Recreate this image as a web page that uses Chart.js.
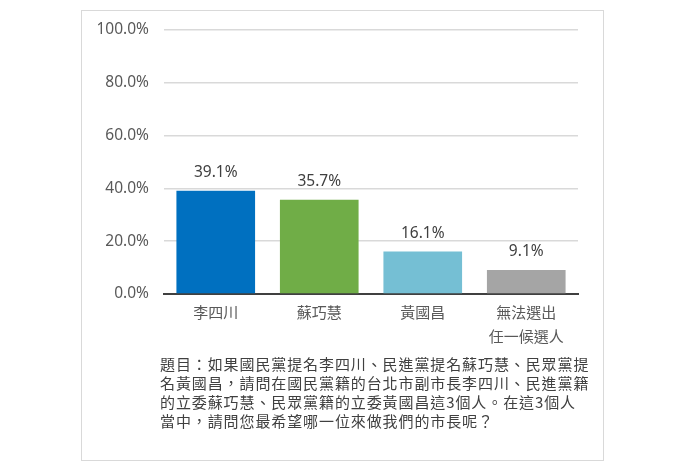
<!DOCTYPE html>
<html lang="zh-TW">
<head>
<meta charset="utf-8">
<script src="https://cdn.jsdelivr.net/npm/chart.js@4"></script>
<style>
  html, body { margin: 0; padding: 0; background: #fff; }
  #wrap { position: relative; width: 699px; height: 468px; }
  #frame { position: absolute; left: 81px; top: 10px; width: 521px; height: 449px; border: 1.5px solid #d9d9d9; }
  #chart { position: absolute; left: 0; top: 0; }
  #question {
    position: absolute; left: 160px; top: 355px; width: 440px;
    font-family: "Noto Sans CJK TC", sans-serif; font-size: 15px; line-height: 18.9px;
    letter-spacing: 0.9px; color: #404040; white-space: nowrap;
  }
</style>
</head>
<body>
<div id="wrap">
  <div id="frame"></div>
  <canvas id="chart" width="699" height="468"></canvas>
  <div id="question" lang="zh-TW">題目：如果國民黨提名李四川、民進黨提名蘇巧慧、民眾黨提<br>名黃國昌，請問在國民黨籍的台北市副市長李四川、民進黨籍<br>的立委蘇巧慧、民眾黨籍的立委黃國昌這3個人。在這3個人<br>當中，請問您最希望哪一位來做我們的市長呢？</div>
</div>
<script>
// 候選人與支持度（%）
const candidates = ['李四川', '蘇巧慧', '黃國昌', ['無法選出', '任一候選人']];
const support = [39.1, 35.7, 16.1, 9.1];
const yTickValues = [0, 20, 40, 60, 80, 100];

const barColors = ['#0070c0', '#70ad47', '#75bfd4', '#a5a5a5'];
const fontFamily = '"Noto Sans", "Noto Sans CJK TC", sans-serif';

// 在每根長條上方寫出百分比
const valueLabels = {
    id: 'valueLabels',
    afterDatasetsDraw(chart) {
        const ctx = chart.ctx;
        const meta = chart.getDatasetMeta(0);
        ctx.save();
        ctx.font = '15.5px ' + fontFamily;
        ctx.fillStyle = '#404040';
        ctx.textAlign = 'center';
        ctx.textBaseline = 'middle';
        meta.data.forEach((bar, i) => {
            ctx.fillText(support[i].toFixed(1) + '%', bar.x, bar.y - 18);
        });
        ctx.restore();
    }
};

new Chart(document.getElementById('chart').getContext('2d'), {
    type: 'bar',
    data: {
        labels: candidates,
        datasets: [{
            data: support,
            backgroundColor: barColors,
            borderWidth: 0,
            barPercentage: 0.76,
            categoryPercentage: 1
        }]
    },
    options: {
        responsive: false,
        animation: false,
        layout: { padding: { top: 30, right: 121, left: 0, bottom: 0 } },
        scales: {
            x: {
                grid: { display: false },
                border: { color: '#404040', width: 2 },
                ticks: {
                    color: '#595959',
                    padding: 0,
                    font: { family: fontFamily, size: 15, lineHeight: 1.6 }
                },
                afterFit(scale) { scale.height = 174; }
            },
            y: {
                min: 0,
                max: 100,
                afterBuildTicks(scale) {
                    scale.ticks = yTickValues.map(v => ({ value: v }));
                },
                grid: { color: '#d9d9d9', lineWidth: 1.5, drawTicks: false },
                border: { display: false },
                ticks: {
                    color: '#595959',
                    padding: 15,
                    font: { family: fontFamily, size: 15.5 },
                    callback: v => v.toFixed(1) + '%'
                },
                afterFit(scale) { scale.width = 164; }
            }
        },
        plugins: {
            legend: { display: false },
            tooltip: { enabled: false }
        }
    },
    plugins: [valueLabels]
});
</script>
</body>
</html>
